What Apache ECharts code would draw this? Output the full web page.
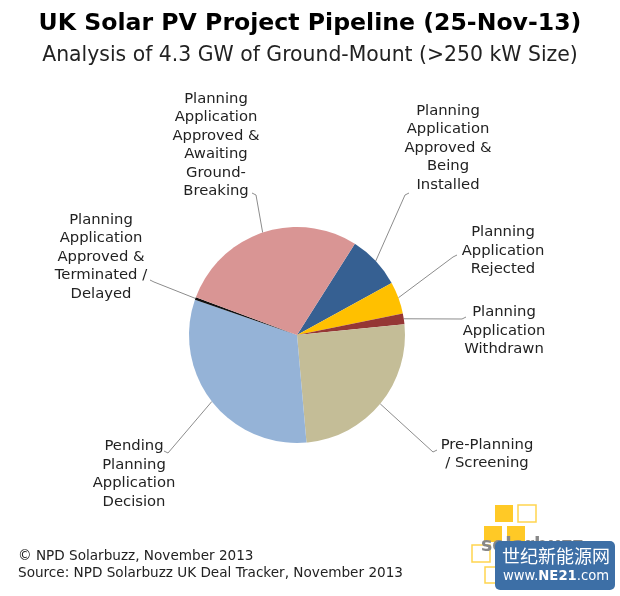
<!DOCTYPE html>
<html>
<head>
<meta charset="utf-8">
<script src="https://cdn.jsdelivr.net/npm/echarts@6/dist/echarts.min.js"></script>
<style>html,body{margin:0;padding:0;background:#fff;}#c{width:620px;height:596px;}</style>
</head>
<body>
<div id="c"></div>
<script>
// Categories (clockwise from the top-right)
var categories = [
  'Planning\nApplication\nApproved &\nBeing\nInstalled',
  'Planning\nApplication\nRejected',
  'Planning\nApplication\nWithdrawn',
  'Pre-Planning\n/ Screening',
  'Pending\nPlanning\nApplication\nDecision',
  'Planning\nApplication\nApproved &\nTerminated /\nDelayed',
  'Planning\nApplication\nApproved &\nAwaiting\nGround-\nBreaking'
];
// Share of 4.3 GW pipeline (%)
var shares = [8.0, 4.8, 1.6, 25.2, 31.7, 0.4, 28.3];
var colors = ['#366092', '#FFC000', '#953735', '#C4BD97', '#95B3D7', '#111111', '#D99594'];
// label anchor centres (layout only)
var labelX = [448, 503, 504, 487, 134, 101, 216];
var labelY = [148, 251, 331, 454, 474, 257, 145];
// leader line end near label, and hook direction (layout only)
var leadEndX = [409, 457, 466, 437, 164, 150, 252];
var leadEndY = [193, 255, 317, 450, 451, 280, 193];
var hookDx = [4, 4, 4, 4, -4, -4, -4];

var chart = echarts.init(document.getElementById('c'));
var data = categories.map(function (c, i) {
  return { name: c, value: shares[i], itemStyle: { color: colors[i] } };
});
chart.setOption({
  animation: false,
  title: [
    { text: 'UK Solar PV Project Pipeline (25-Nov-13)', left: 'center', top: 7,
      textStyle: { fontFamily: 'DejaVu Sans', fontWeight: 'bold', fontSize: 23.6, color: '#000' } },
    { text: 'Analysis of 4.3 GW of Ground-Mount (>250 kW Size)', left: 'center', top: 41,
      textStyle: { fontFamily: 'DejaVu Sans', fontWeight: 'normal', fontSize: 20.4, color: '#222' } }
  ],
  graphic: [
    { type: 'text', left: 18, top: 549, style: { text: '© NPD Solarbuzz, November 2013', font: '13.6px "DejaVu Sans"', fill: '#222' } },
    { type: 'text', left: 18, top: 566, style: { text: 'Source: NPD Solarbuzz UK Deal Tracker, November 2013', font: '13.6px "DejaVu Sans"', fill: '#222' } },
    { type: 'rect', shape: { x: 495, y: 505, width: 18, height: 17 }, style: { fill: '#FFC000', opacity: 0.85 } },
    { type: 'rect', shape: { x: 518, y: 505, width: 18, height: 17 }, style: { fill: 'none', stroke: '#FFD54F', lineWidth: 1.5 } },
    { type: 'rect', shape: { x: 484, y: 526, width: 18, height: 16 }, style: { fill: '#FFC000', opacity: 0.85 } },
    { type: 'rect', shape: { x: 507, y: 526, width: 18, height: 16 }, style: { fill: '#FFC000', opacity: 0.85 } },
    { type: 'rect', shape: { x: 472, y: 545, width: 18, height: 17 }, style: { fill: 'none', stroke: '#FFD54F', lineWidth: 1.5 } },
    { type: 'rect', shape: { x: 485, y: 567, width: 17, height: 16 }, style: { fill: 'none', stroke: '#FFD54F', lineWidth: 1.5 } },
    { type: 'text', left: 481, top: 537, style: { text: 'solarbuzz', font: 'bold 19px "DejaVu Sans"', fill: '#888' } },
    { type: 'rect', shape: { x: 495, y: 541, width: 120, height: 49, r: 5 }, style: { fill: '#3D6FA6' } },
    { type: 'text', left: 502, top: 547, style: { text: '世纪新能源网', font: '18px "Noto Sans CJK SC"', fill: '#fff' } },
    { type: 'text', left: 503, top: 570, style: {
        text: '{a|www.}{b|NE21}{a|.com}', fill: '#fff',
        rich: { a: { fontFamily: 'DejaVu Sans', fontSize: 13.2, color: '#fff' }, b: { fontFamily: 'DejaVu Sans', fontWeight: 'bold', fontSize: 13.2, color: '#fff' } } } }
  ],
  series: [{
    type: 'pie',
    center: [297, 335],
    radius: 108,
    startAngle: 57.6,
    clockwise: true,
    data: data,
    label: {
      show: true,
      fontFamily: 'DejaVu Sans',
      fontSize: 14.8,
      lineHeight: 18.5,
      color: '#222',
      align: 'center'
    },
    labelLine: { show: true, length: 10, length2: 10, lineStyle: { color: '#8c8c8c', width: 1 } },
    labelLayout: function (p) {
      var i = p.dataIndex;
      var p0 = p.labelLinePoints ? p.labelLinePoints[0] : [leadEndX[i], leadEndY[i]];
      return {
        x: labelX[i], y: labelY[i], align: 'center', verticalAlign: 'middle',
        labelLinePoints: [p0, [leadEndX[i] - hookDx[i], leadEndY[i] + 2], [leadEndX[i], leadEndY[i]]]
      };
    },
    emphasis: { disabled: true }
  }]
});
</script>
</body>
</html>
